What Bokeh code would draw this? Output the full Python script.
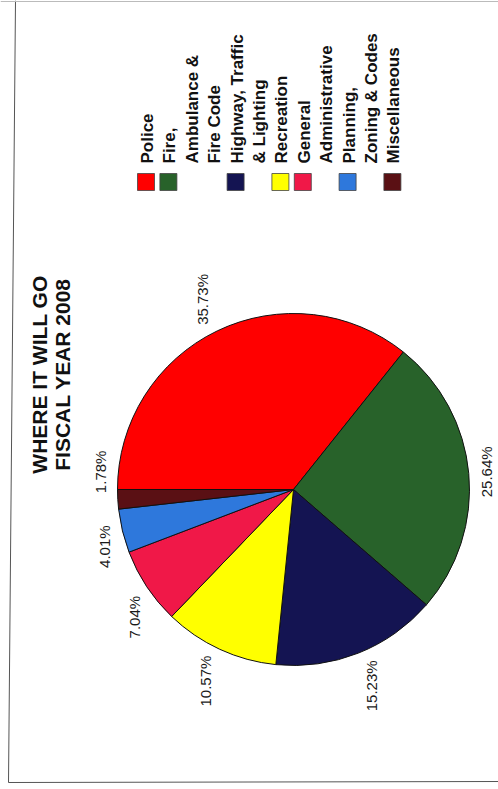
import math
from bokeh.plotting import figure
from bokeh.models import Range1d, ColumnDataSource
from bokeh.core.properties import value
from bokeh.embed import file_html
from bokeh.resources import INLINE

# ---------------- data ----------------
categories = ["Police", "Fire, Ambulance & Fire Code", "Highway, Traffic & Lighting",
              "Recreation", "General Administrative", "Planning, Zoning & Codes",
              "Miscellaneous"]
legend_lines = [["Police"], ["Fire,", "Ambulance &", "Fire Code"],
                ["Highway, Traffic", "& Lighting"], ["Recreation"],
                ["General", "Administrative"], ["Planning,", "Zoning & Codes"],
                ["Miscellaneous"]]
percents = [35.73, 25.64, 15.23, 10.57, 7.04, 4.01, 1.78]
colors = ["#FF0000", "#28622A", "#141452", "#FFFF00", "#F01848", "#2E78DC", "#5A1014"]
title_lines = ["WHERE IT WILL GO", "FISCAL YEAR 2008"]

# ---------------- layout ----------------
W, H = 498, 789
FONT = "Liberation Sans"


def sy(y):
    return H - y


CX, CY, R = 293, sy(489), 176
ROT = math.pi / 2

p = figure(width=W, height=H, x_range=Range1d(0, W), y_range=Range1d(0, H),
           output_backend="svg", toolbar_location=None, min_border=0,
           x_axis_type=None, y_axis_type=None)
p.grid.visible = False
p.outline_line_color = None
p.background_fill_color = "white"
p.border_fill_color = "white"

# scanned page edges
p.segment(x0=[15, 8, 0], y0=[sy(0), sy(782), sy(1)], x1=[8, W, W], y1=[sy(782), sy(781), sy(1)],
          line_color=["#555555", "#555555", "#bbbbbb"], line_width=1)

# pie
total = sum(percents)
starts, ends, mids = [], [], []
cum = 0.0
for v in percents:
    a0 = math.pi - 2 * math.pi * cum / total
    cum += v
    a1 = math.pi - 2 * math.pi * cum / total
    starts.append(a0)
    ends.append(a1)
    mids.append((a0 + a1) / 2)

src = ColumnDataSource(dict(start=starts, end=ends, color=colors, cat=categories))
p.wedge(x=CX, y=CY, radius=R, start_angle="start", end_angle="end", direction="clock",
        fill_color="color", line_color="#111111", line_width=1, source=src)

# label angles: mid angles, spread apart so neighbouring labels keep a minimum gap
MIN_GAP = math.radians(22)
lab = list(mids)
n = len(lab)
for _ in range(200):
    for k in range(n):
        j = (k + 1) % n
        gap = (lab[k] - lab[j]) % (2 * math.pi)
        if gap < MIN_GAP:
            d = (MIN_GAP - gap) / 2
            lab[k] += d
            lab[j] -= d

# percentage labels (rotated text, placed outside the pie)
LBL = 15
lx, ly, lt = [], [], []
for v, m in zip(percents, lab):
    t = f"{v:.2f}%"
    length = LBL * sum(0.889 if c == "%" else (0.278 if c == "." else 0.556) for c in t)
    hw, hh = 7, length / 2
    r = R + 9 + hw * abs(math.cos(m)) + hh * abs(math.sin(m))
    lx.append(CX + r * math.cos(m))
    ly.append(CY + r * math.sin(m))
    lt.append(t)
p.text(x=lx, y=ly, text=lt, angle=ROT, text_align="center", text_baseline="middle",
       text_font=value(FONT), text_font_size=f"{LBL}px", text_color="#1a1a1a")

# title
p.text(x=[39, 62], y=[sy(374), sy(374)], text=title_lines, angle=ROT,
       text_align="center", text_baseline="middle", text_font=value(FONT),
       text_font_size="21px", text_font_style="bold", text_color="#111111")

# legend
LINE_STEP = 22.4
X0 = 147
TEXT_Y0 = sy(163)
SQ_Y = sy(181.5)
tx, ty, tt = [], [], []
sqx = []
i = 0
for lines in legend_lines:
    sqx.append(X0 + LINE_STEP * i - 1.5)
    for ln in lines:
        tx.append(X0 + LINE_STEP * i)
        ty.append(TEXT_Y0)
        tt.append(ln)
        i += 1
p.rect(x=sqx, y=[SQ_Y] * len(sqx), width=17, height=17, fill_color=colors,
       line_color="#444444", line_width=0.8)
p.text(x=tx, y=ty, text=tt, angle=ROT, text_align="left", text_baseline="middle",
       text_font=value(FONT), text_font_size="17px", text_font_style="bold",
       text_color="#111111")

open("out.html", "w").write(file_html(p, INLINE))
